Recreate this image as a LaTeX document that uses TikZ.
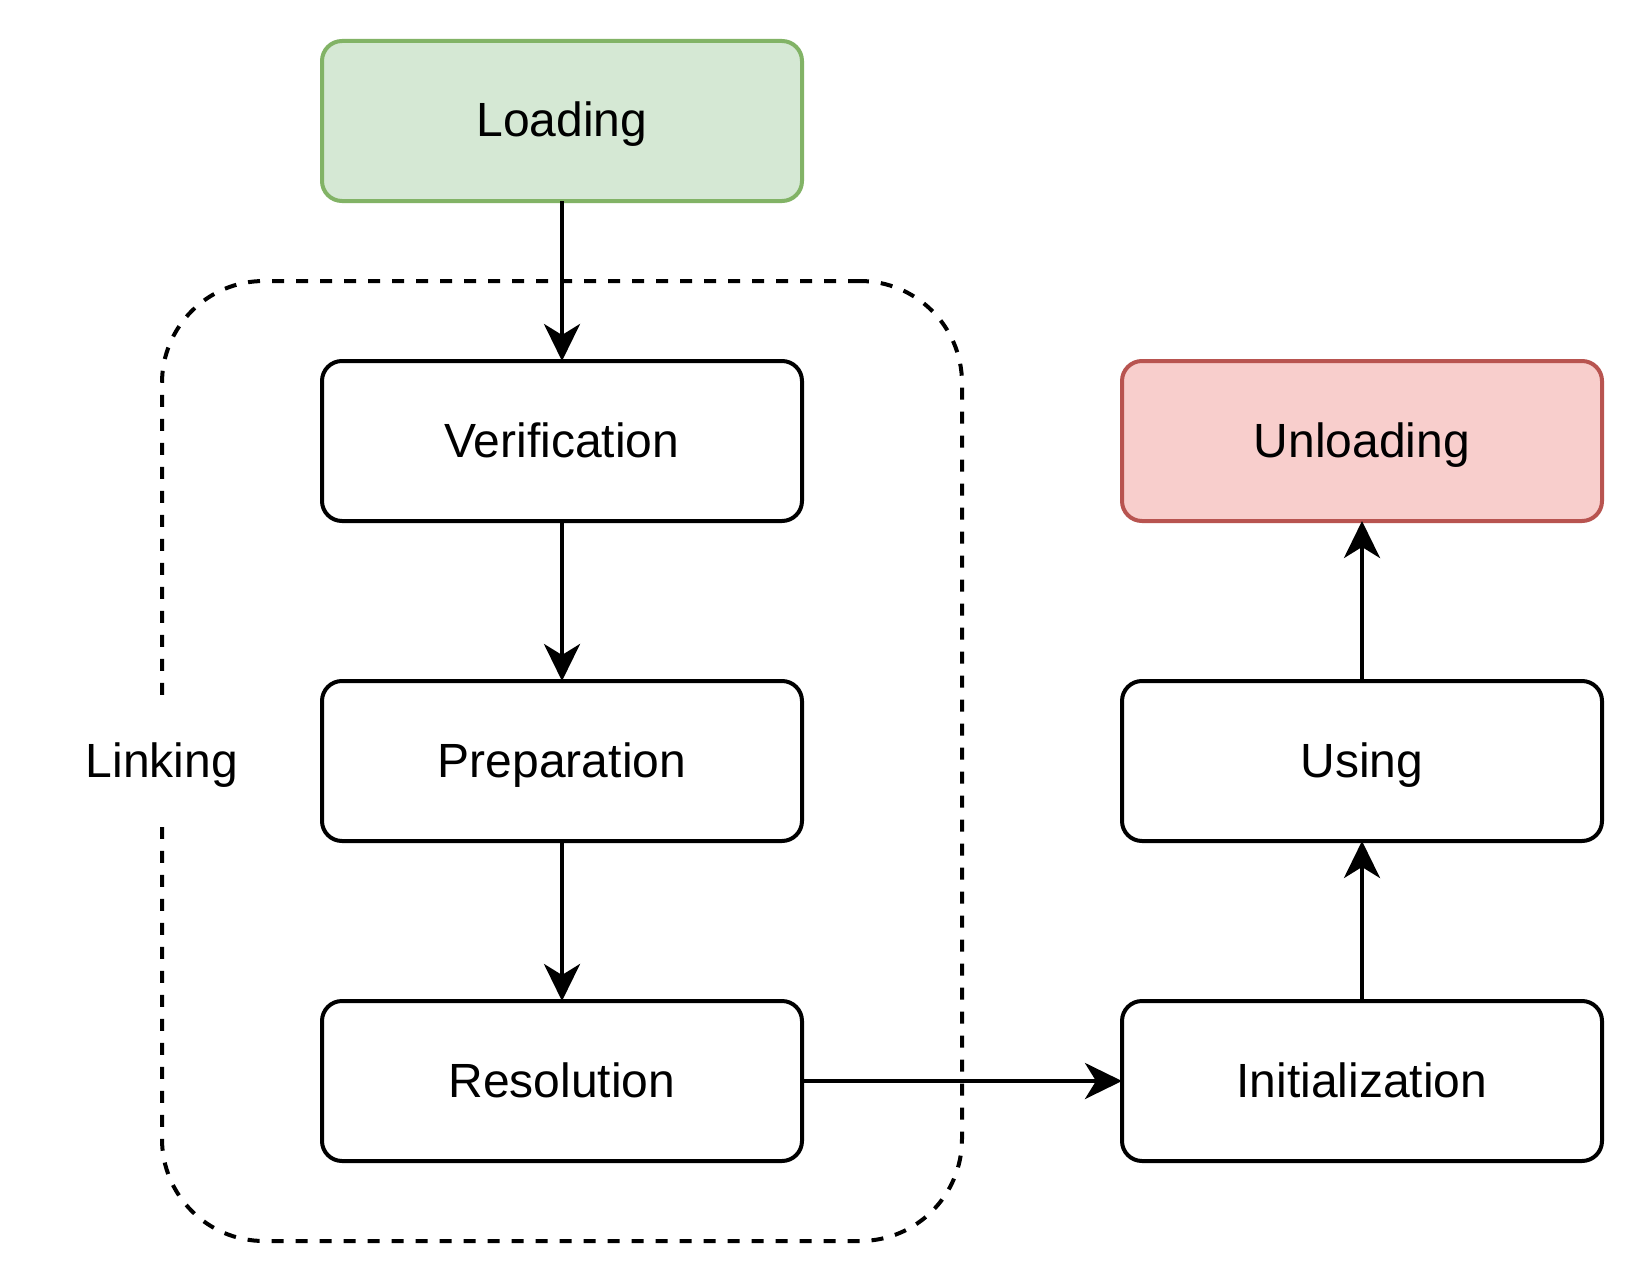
\documentclass[tikz,border=0pt]{standalone}
\usepackage{fontspec}
\setmainfont{Liberation Sans}
\usetikzlibrary{arrows.meta}
\definecolor{greenfill}{HTML}{D5E8D4}
\definecolor{greenline}{HTML}{82B366}
\definecolor{redfill}{HTML}{F8CECC}
\definecolor{redline}{HTML}{B85450}
\begin{document}
\begin{tikzpicture}[x=0.5pt,y=-0.5pt,
  lbl/.style={font=\fontsize{24}{28}\selectfont, text height=17pt, text depth=1pt},
  stage/.style={lbl, draw=black, fill=white, line width=2pt, rounded corners=10pt,
    minimum width=240pt, minimum height=80pt, inner sep=0pt, outer sep=0pt},
  greenstage/.style={stage, draw=greenline, fill=greenfill},
  redstage/.style={stage, draw=redline, fill=redfill},
  groupbox/.style={draw=black, line width=2pt, dash pattern=on 6pt off 6pt,
    rounded corners=51pt, minimum width=400pt, minimum height=480pt,
    inner sep=0pt, outer sep=0pt},
  arr/.style={draw=black, line width=2pt,
    -{Stealth[length=18.5pt, width=18pt, inset=5.5pt]}}
]
\fill[white] (0,0) rectangle (1644,1284);
\useasboundingbox (0,0) rectangle (1644,1284);

\node[groupbox] (linkbox) at (562,761) {};
\node[lbl, fill=white, minimum height=66pt, inner xsep=2pt] (linking) at (linkbox.west) {Linking};

\node[greenstage] (load) at (562,121) {Loading};
\node[stage] (ver) at (562,441) {Verification};
\node[stage] (prep) at (562,761) {Preparation};
\node[stage] (res) at (562,1081) {Resolution};
\node[redstage] (unl) at (1362,441) {Unloading};
\node[stage] (use) at (1362,761) {Using};
\node[stage] (init) at (1362,1081) {Initialization};

\draw[arr] (load.south) -- (ver.north);
\draw[arr] (ver.south) -- (prep.north);
\draw[arr] (prep.south) -- (res.north);
\draw[arr] (res.east) -- (init.west);
\draw[arr] (init.north) -- (use.south);
\draw[arr] (use.north) -- (unl.south);
\end{tikzpicture}
\end{document}
